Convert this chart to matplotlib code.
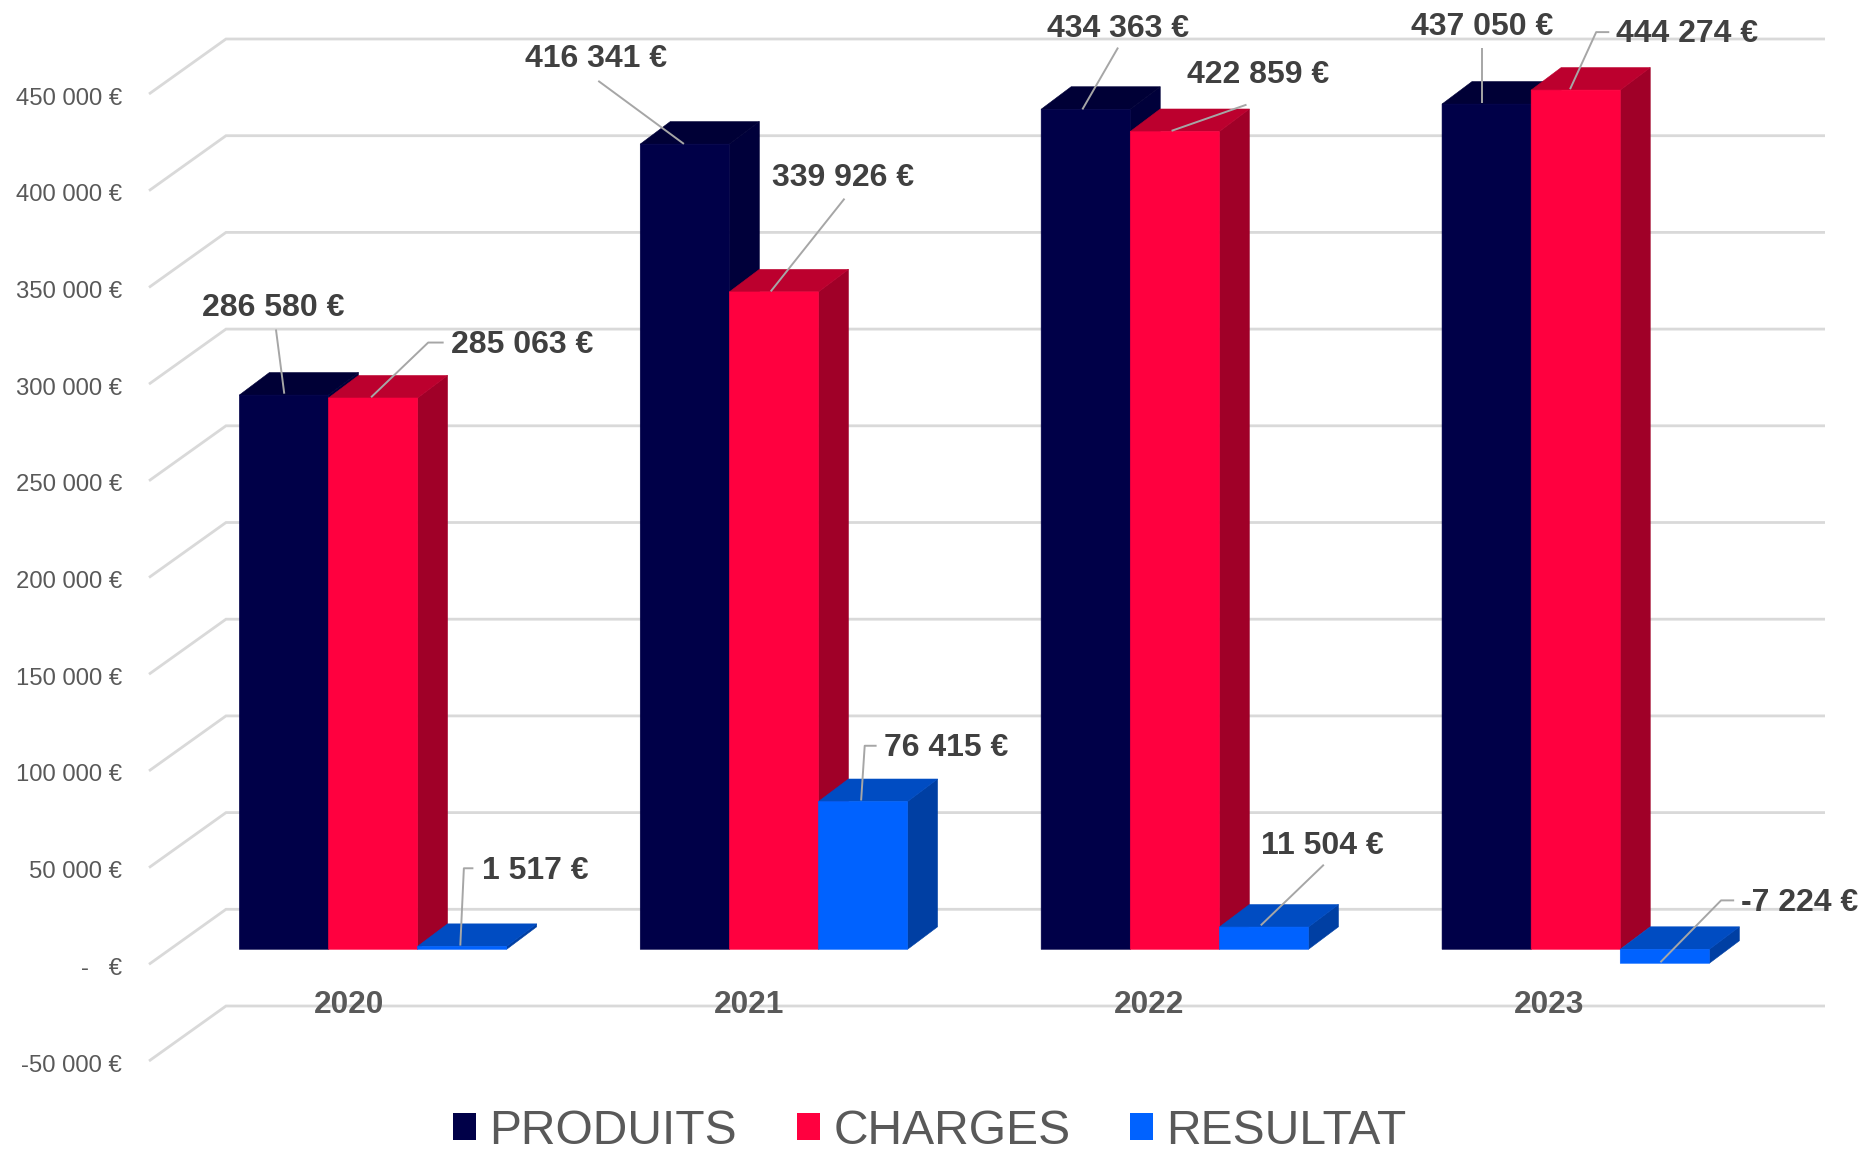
import matplotlib
matplotlib.use("Agg")
import matplotlib.pyplot as plt
from matplotlib.patches import Polygon, Patch
from matplotlib.transforms import Affine2D, ScaledTranslation

W, H = 1865, 1151
plt.rcParams['font.family'] = ['Liberation Sans', 'DejaVu Sans']

# ---- data ----
years = ['2020', '2021', '2022', '2023']
produits = [286580, 416341, 434363, 437050]
charges = [285063, 339926, 422859, 444274]
resultat = [1517, 76415, 11504, -7224]
series_names = ['PRODUITS', 'CHARGES', 'RESULTAT']
y_ticks = [-50000, 0, 50000, 100000, 150000, 200000, 250000, 300000, 350000, 400000, 450000]
y_tick_labels = ['-50 000 €', '-   €', '50 000 €', '100 000 €', '150 000 €', '200 000 €',
                 '250 000 €', '300 000 €', '350 000 €', '400 000 €', '450 000 €']

# ---- style / layout (pixels of the full-size picture) ----
front_col = ['#000048', '#FF003F', '#0062FF']
top_col = ['#000036', '#BC002E', '#004CC2']
side_col = ['#00003A', '#A00028', '#003FA3']
k = 0.001934          # pixels per euro
base_px = 949.3       # pixel row of value 0 at the bars' front
group_step = 400.9    # pixels between groups
bar_w = 89.1          # pixels
x0_px = 373.0         # pixel column of the middle bar of the first group
bar_dx, bar_dy = 30.0, 22.5
wall_front_x, wall_back_x, wall_right_x = 149, 226, 1825
wall_front_dy, wall_back_dy = 15, -40
tick_label_dy = 17
cat_first_px, cat_step_px = 349, 400.1

fig = plt.figure(figsize=(W / 100, H / 100), dpi=100, facecolor='white')
ax = fig.add_axes([0, 0, 1, 1])
ax.set_xlim(-x0_px / group_step, (W - x0_px) / group_step)
ax.set_ylim(-(H - base_px) / k, base_px / k)
for s in ax.spines.values():
    s.set_visible(False)
ax.set_facecolor('white')

ux = 1 / group_step   # data units per pixel, x
uy = 1 / k            # data units per pixel, y
xpx = lambda p: (p - x0_px) * ux

# walls and gridlines
for v in y_ticks:
    ax.plot([xpx(wall_front_x), xpx(wall_back_x), xpx(wall_right_x)],
            [v - wall_front_dy * uy, v - wall_back_dy * uy, v - wall_back_dy * uy],
            color='#D9D9D9', lw=2.0, zorder=1, solid_joinstyle='miter', solid_capstyle='butt')

# bars: front from ax.bar, depth faces as polygons derived from the values
w = bar_w * ux
ddx, ddy = bar_dx * ux, bar_dy * uy
for s, vals in enumerate([produits, charges, resultat]):
    offs = [i + (s - 1) * w for i in range(len(years))]
    z = 3 + s * 2
    for xc, v in zip(offs, vals):
        l, r = xc - w / 2, xc + w / 2
        top, bot = max(v, 0), min(v, 0)
        ax.add_patch(Polygon([(r, bot), (r + ddx, bot + ddy), (r + ddx, top + ddy), (r, top)],
                             closed=True, fc=side_col[s], ec=side_col[s], lw=0.4, zorder=z))
        ax.add_patch(Polygon([(l, top), (l + ddx, top + ddy), (r + ddx, top + ddy), (r, top)],
                             closed=True, fc=top_col[s], ec=top_col[s], lw=0.4, zorder=z))
    bars = ax.bar(offs, vals, width=w, color=front_col[s], zorder=z + 1,
                  edgecolor=front_col[s], linewidth=0.4)
    for b in bars:
        b.set_snap(False)

# y axis labels (drawn at the front edge of the wall)
ax.set_yticks(y_ticks)
ax.set_yticklabels(y_tick_labels, fontsize=17.2, color='#595959')
ax.tick_params(axis='y', length=0, pad=-122 * 0.72)
off = ScaledTranslation(0, -tick_label_dy / 100, fig.dpi_scale_trans)
for t in ax.get_yticklabels():
    t.set_transform(t.get_transform() + off)

# category labels
ax.set_xticks([xpx(cat_first_px + i * cat_step_px) for i in range(len(years))])
ax.set_xticklabels(years, fontsize=22.8, fontweight='bold', color='#595959')
ax.tick_params(axis='x', length=0, pad=-(H - 990) * 0.72)

# data labels with leader lines, positioned in the coordinates of the shrunk picture
sc = W / 1568
px = Affine2D().scale(sc, -sc).translate(0, H)
all_vals = produits + charges + resultat
label_layout = [  # (text x, text y, ha, leader points)
    (230, 259, 'center', [(232, 277), (239, 331)]),
    (501, 50, 'center', [(503, 68), (575, 121)]),
    (940, 24, 'center', [(940, 40), (910, 92)]),
    (1246, 23, 'center', [(1246, 40), (1246, 87)]),
    (379, 290, 'left', [(373, 288), (360, 288), (312, 334)]),
    (709, 150, 'center', [(710, 167), (648, 245)]),
    (1058, 63, 'center', [(1048, 88), (985, 110)]),
    (1359, 29, 'left', [(1353, 27), (1342, 27), (1320, 75)]),
    (405, 732, 'left', [(398, 730), (390, 730), (387, 795)]),
    (743, 629, 'left', [(737, 627), (727, 627), (724, 673)]),
    (1112, 711, 'center', [(1113, 727), (1060, 778)]),
    (1464, 759, 'left', [(1458, 757), (1447, 757), (1396, 809)]),
]
for v, (tx, ty, ha, pts) in zip(all_vals, label_layout):
    txt = f"{v:,}".replace(',', ' ') + ' €'
    ax.text(tx, ty, txt, transform=px, ha=ha, va='center', fontsize=23,
            fontweight='bold', color='#404040', zorder=12)
    ax.plot([p[0] for p in pts], [p[1] for p in pts], transform=px,
            color='#A6A6A6', lw=1.4, zorder=11, solid_capstyle='butt')

# legend
handles = [Patch(fc=c, ec='none', label=n) for c, n in zip(front_col, series_names)]
leg = fig.legend(handles=handles, loc='center', bbox_to_anchor=(930 / W, 1 - 1131 / H),
                 ncol=3, frameon=False, fontsize=34.6, handlelength=0.48, handleheight=0.48,
                 handletextpad=0.27, columnspacing=1.25, borderpad=0, borderaxespad=0,
                 labelcolor='#595959')

fig.savefig('out.png', dpi=100, facecolor='white')
